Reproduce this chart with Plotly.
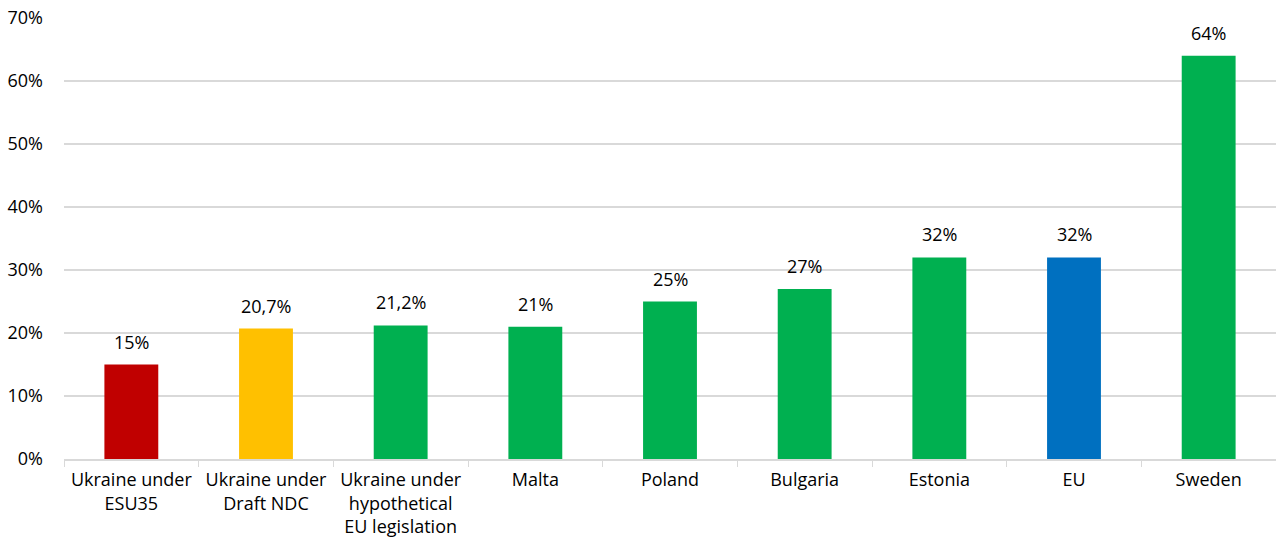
import plotly.graph_objects as go

categories = ["Ukraine under<br>ESU35", "Ukraine under<br>Draft NDC", "Ukraine under<br>hypothetical<br>EU legislation",
              "Malta", "Poland", "Bulgaria", "Estonia", "EU", "Sweden"]
values = [0.15, 0.207, 0.212, 0.21, 0.25, 0.27, 0.32, 0.32, 0.64]
labels = ["15%", "20,7%", "21,2%", "21%", "25%", "27%", "32%", "32%", "64%"]
colors = ["#C00000", "#FFC000", "#00B050", "#00B050", "#00B050", "#00B050", "#00B050", "#0070C0", "#00B050"]
yticks = [0, 0.1, 0.2, 0.3, 0.4, 0.5, 0.6, 0.7]
ytick_text = ["0%", "10%", "20%", "30%", "40%", "50%", "60%", "70%"]

FONT = "'Open Sans', Lato, sans-serif"

fig = go.Figure(go.Bar(
    x=categories, y=values, marker=dict(color=colors, line=dict(width=0)),
    width=0.4, cliponaxis=False, hoverinfo="skip",
))
for c, v, t in zip(categories, values, labels):
    fig.add_annotation(x=c, y=v, text=t, showarrow=False, yanchor="bottom", yshift=9,
                       font=dict(family=FONT, size=18, color="#000000"))
fig.update_layout(
    width=1276, height=541,
    margin=dict(l=64, r=0, t=18, b=82, autoexpand=False),
    plot_bgcolor="white", paper_bgcolor="white",
    showlegend=False,
    font=dict(family=FONT, size=17, color="#000000"),
    xaxis=dict(tickson="boundaries", ticks="outside", ticklen=6, tickcolor="#D9D9D9",
               showline=True, linecolor="#D9D9D9", linewidth=1.5, showgrid=False,
               tickangle=0, automargin=False, ticklabelstandoff=4,
               tickfont=dict(family=FONT, size=18)),
    yaxis=dict(range=[0, 0.7], tickvals=yticks, ticktext=ytick_text,
               showgrid=True, gridcolor="#D9D9D9", gridwidth=1.5, zeroline=False,
               showline=False, ticks="", ticklabelstandoff=20, automargin=False,
               tickfont=dict(family=FONT, size=18)),
)
fig.write_html("out.html")
